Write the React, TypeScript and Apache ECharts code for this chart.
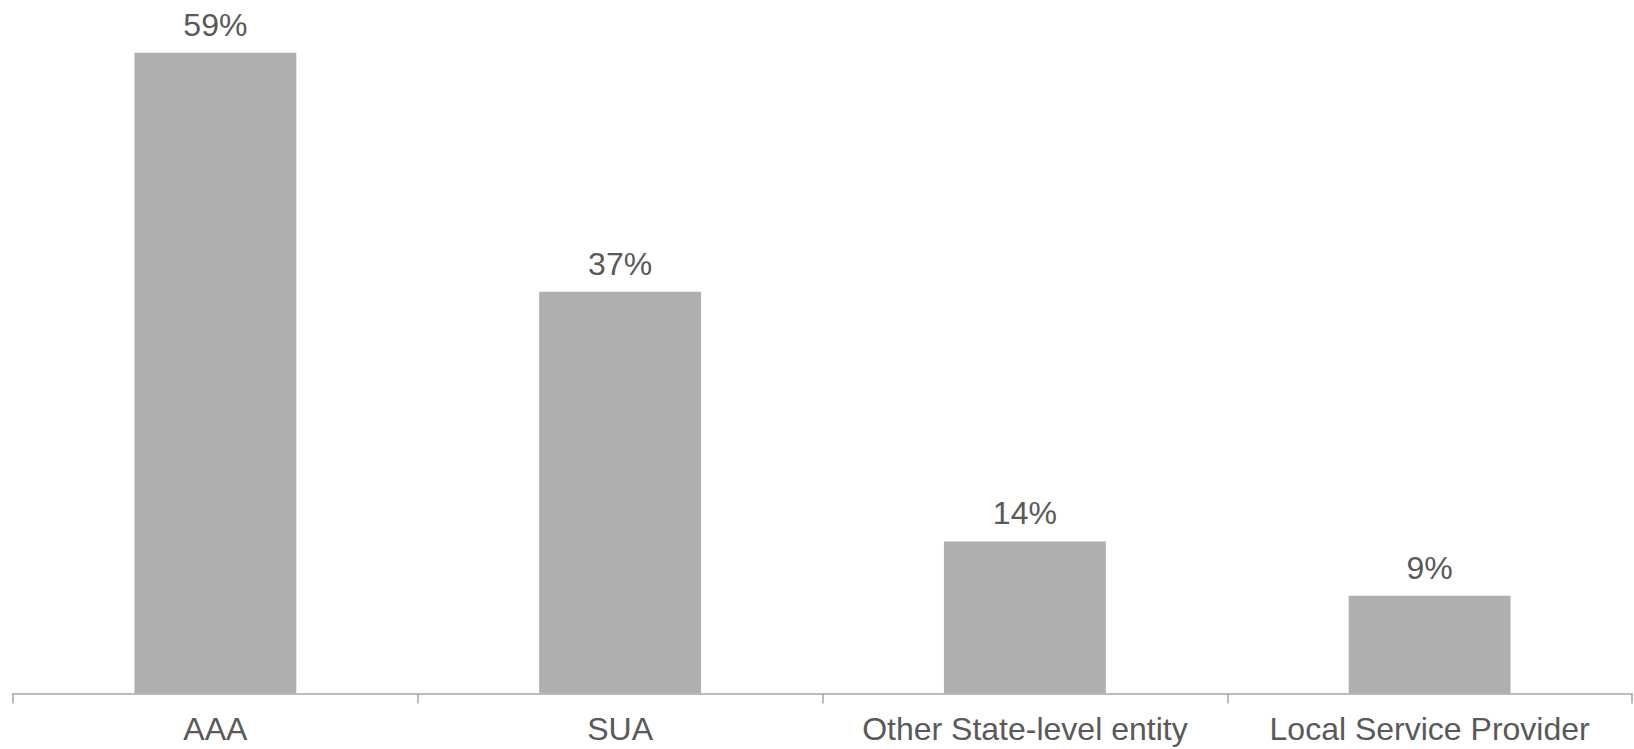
import React, { useEffect, useRef } from "react";
import * as echarts from "echarts";

const categories = ["AAA", "SUA", "Other State-level entity", "Local Service Provider"];
const shares = [59, 37, 14, 9];

export default function App() {
  const ref = useRef<HTMLDivElement>(null);

  useEffect(() => {
    document.body.style.margin = "0";
    const chart = echarts.init(ref.current!, null, { renderer: "svg" });
    chart.setOption({
      animation: false,
      grid: { left: 13, right: 2, top: 42, bottom: 55.5 },
      xAxis: {
        type: "category",
        data: categories,
        boundaryGap: true,
        axisLine: { lineStyle: { color: "#A6A6A6", width: 1.5 } },
        axisTick: { show: true, length: 10, lineStyle: { color: "#A6A6A6", width: 1.5 } },
        axisLabel: {
          interval: 0,
          color: "#595959",
          fontFamily: "Liberation Sans, Arial, sans-serif",
          fontSize: 32,
          margin: 19,
        },
      },
      yAxis: {
        type: "value",
        min: 0,
        max: 60,
        show: false,
        splitLine: { show: false },
      },
      series: [
        {
          type: "bar",
          data: shares,
          barWidth: "40%",
          itemStyle: { color: "#AEAFAE" },
          label: {
            show: true,
            position: "top",
            distance: 12,
            formatter: "{c}%",
            color: "#595959",
            fontFamily: "Liberation Sans, Arial, sans-serif",
            fontSize: 32,
          },
        },
      ],
    });
    return () => chart.dispose();
  }, []);

  return <div ref={ref} style={{ width: 1634, height: 749 }} />;
}
